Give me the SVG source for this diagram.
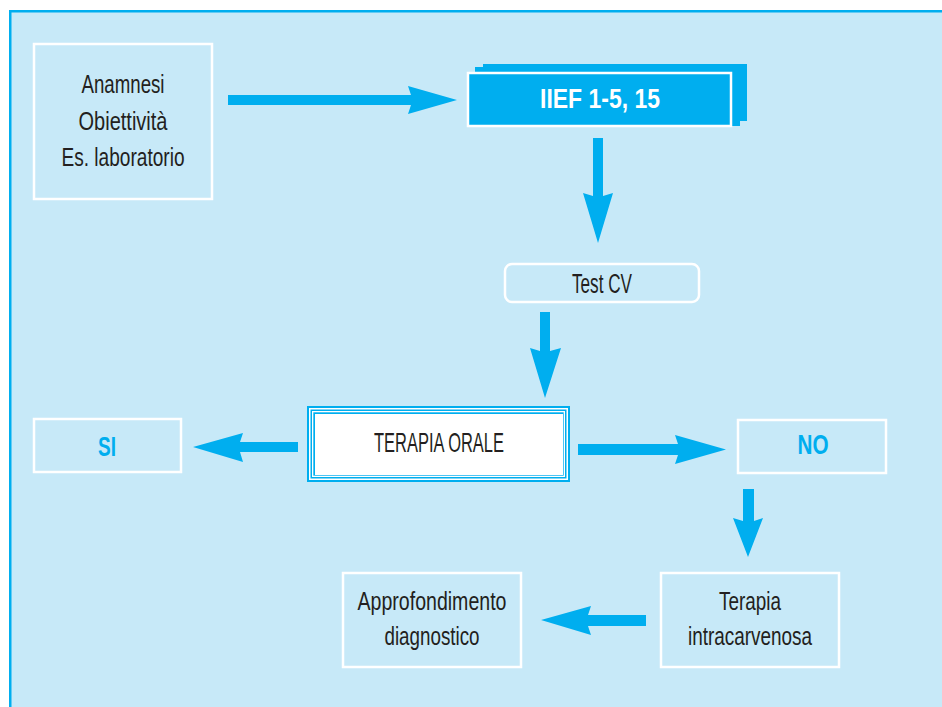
<svg xmlns="http://www.w3.org/2000/svg" width="942" height="707" viewBox="0 0 942 707">
  <style>
    .box { fill: none; stroke: #ffffff; stroke-width: 2.5; }
    .txt { font-family: "Liberation Sans Narrow", "Liberation Sans", Arial, sans-serif; font-size: 26px; fill: #231F20; text-anchor: middle; }
    .blue { font-weight: bold; fill: #00AEEF; font-size: 27px; }
    .arrow { fill: #00AEEF; }
  </style>

  <!-- page and frame -->
  <rect x="0" y="0" width="942" height="707" fill="#ffffff"/>
  <rect x="9" y="10" width="933" height="697" fill="#C7E9F8"/>
  <rect x="9" y="10" width="933" height="2.5" fill="#00AEEF"/>
  <rect x="9" y="10" width="2.5" height="697" fill="#00AEEF"/>

  <g id="connectors">
    <polygon class="arrow" points="228,95 411,95 408,86 457,100 408,114 411,105 228,105"/>
    <polygon class="arrow" points="593,138 603,138 603,196 613,193 598,243 583,193 593,196"/>
    <polygon class="arrow" points="540,312 550,312 550,351 561,348 545,398 530,348 540,351"/>
    <polygon class="arrow" points="298,442 298,452 240,452 243,462 193,447 243,433 240,442"/>
    <polygon class="arrow" points="578,444 678,444 675,435 726,449.5 675,464 678,455 578,455"/>
    <polygon class="arrow" points="743,489 754,489 754,521 763,518 748,557 733,518 743,521"/>
    <polygon class="arrow" points="646,615 646,626 588,626 591,635 541,620 591,606 588,615"/>
  </g>

  <g id="anamnesi">
    <rect class="box" x="34" y="44" width="178" height="155"/>
    <text class="txt" x="123" y="93" textLength="83" lengthAdjust="spacingAndGlyphs">Anamnesi</text>
    <text class="txt" x="123" y="130" textLength="89" lengthAdjust="spacingAndGlyphs">Obiettività</text>
    <text class="txt" x="123" y="166" textLength="123" lengthAdjust="spacingAndGlyphs">Es. laboratorio</text>
  </g>

  <g id="iief">
    <rect x="475" y="67" width="265" height="59" fill="#00AEEF"/>
    <rect x="483" y="64" width="264" height="57" fill="#00AEEF"/>
    <rect x="468" y="73" width="263" height="53" fill="#00AEEF" stroke="#ffffff" stroke-width="2.5"/>
    <text class="txt" x="600" y="108" style="fill:#ffffff;font-size:28px;font-weight:bold" textLength="120" lengthAdjust="spacingAndGlyphs">IIEF 1-5, 15</text>
  </g>

  <g id="test-cv">
    <rect class="box" x="505" y="264" width="194" height="38" rx="7"/>
    <text class="txt" x="602" y="293" style="font-size:27px" textLength="60" lengthAdjust="spacingAndGlyphs">Test CV</text>
  </g>

  <g id="terapia-orale">
    <rect x="307" y="406" width="263" height="76" fill="#00AEEF"/>
    <rect x="309" y="408" width="259" height="72" fill="#ffffff"/>
    <rect x="310.5" y="409.5" width="256" height="69" fill="#00AEEF"/>
    <rect x="312" y="411" width="253" height="66" fill="#ffffff"/>
    <rect x="313.3" y="412.3" width="250.4" height="63.4" fill="#00AEEF"/>
    <rect x="315" y="414" width="248" height="61" fill="#ffffff"/>
    <text class="txt" x="439" y="452" style="font-size:28px" textLength="130" lengthAdjust="spacingAndGlyphs">TERAPIA ORALE</text>
  </g>

  <g id="si">
    <rect class="box" x="34" y="419" width="147" height="53"/>
    <text class="txt blue" x="107" y="456" textLength="18" lengthAdjust="spacingAndGlyphs">SI</text>
  </g>

  <g id="no">
    <rect class="box" x="738" y="420" width="148" height="53"/>
    <text class="txt blue" x="813" y="454" textLength="31" lengthAdjust="spacingAndGlyphs">NO</text>
  </g>

  <g id="terapia-intracarvenosa">
    <rect class="box" x="661" y="573" width="178" height="94"/>
    <text class="txt" x="750" y="610" textLength="62" lengthAdjust="spacingAndGlyphs">Terapia</text>
    <text class="txt" x="750" y="645" textLength="124" lengthAdjust="spacingAndGlyphs">intracarvenosa</text>
  </g>

  <g id="approfondimento">
    <rect class="box" x="343" y="573" width="178" height="94"/>
    <text class="txt" x="432" y="610" textLength="149" lengthAdjust="spacingAndGlyphs">Approfondimento</text>
    <text class="txt" x="432" y="645" textLength="95" lengthAdjust="spacingAndGlyphs">diagnostico</text>
  </g>
</svg>
